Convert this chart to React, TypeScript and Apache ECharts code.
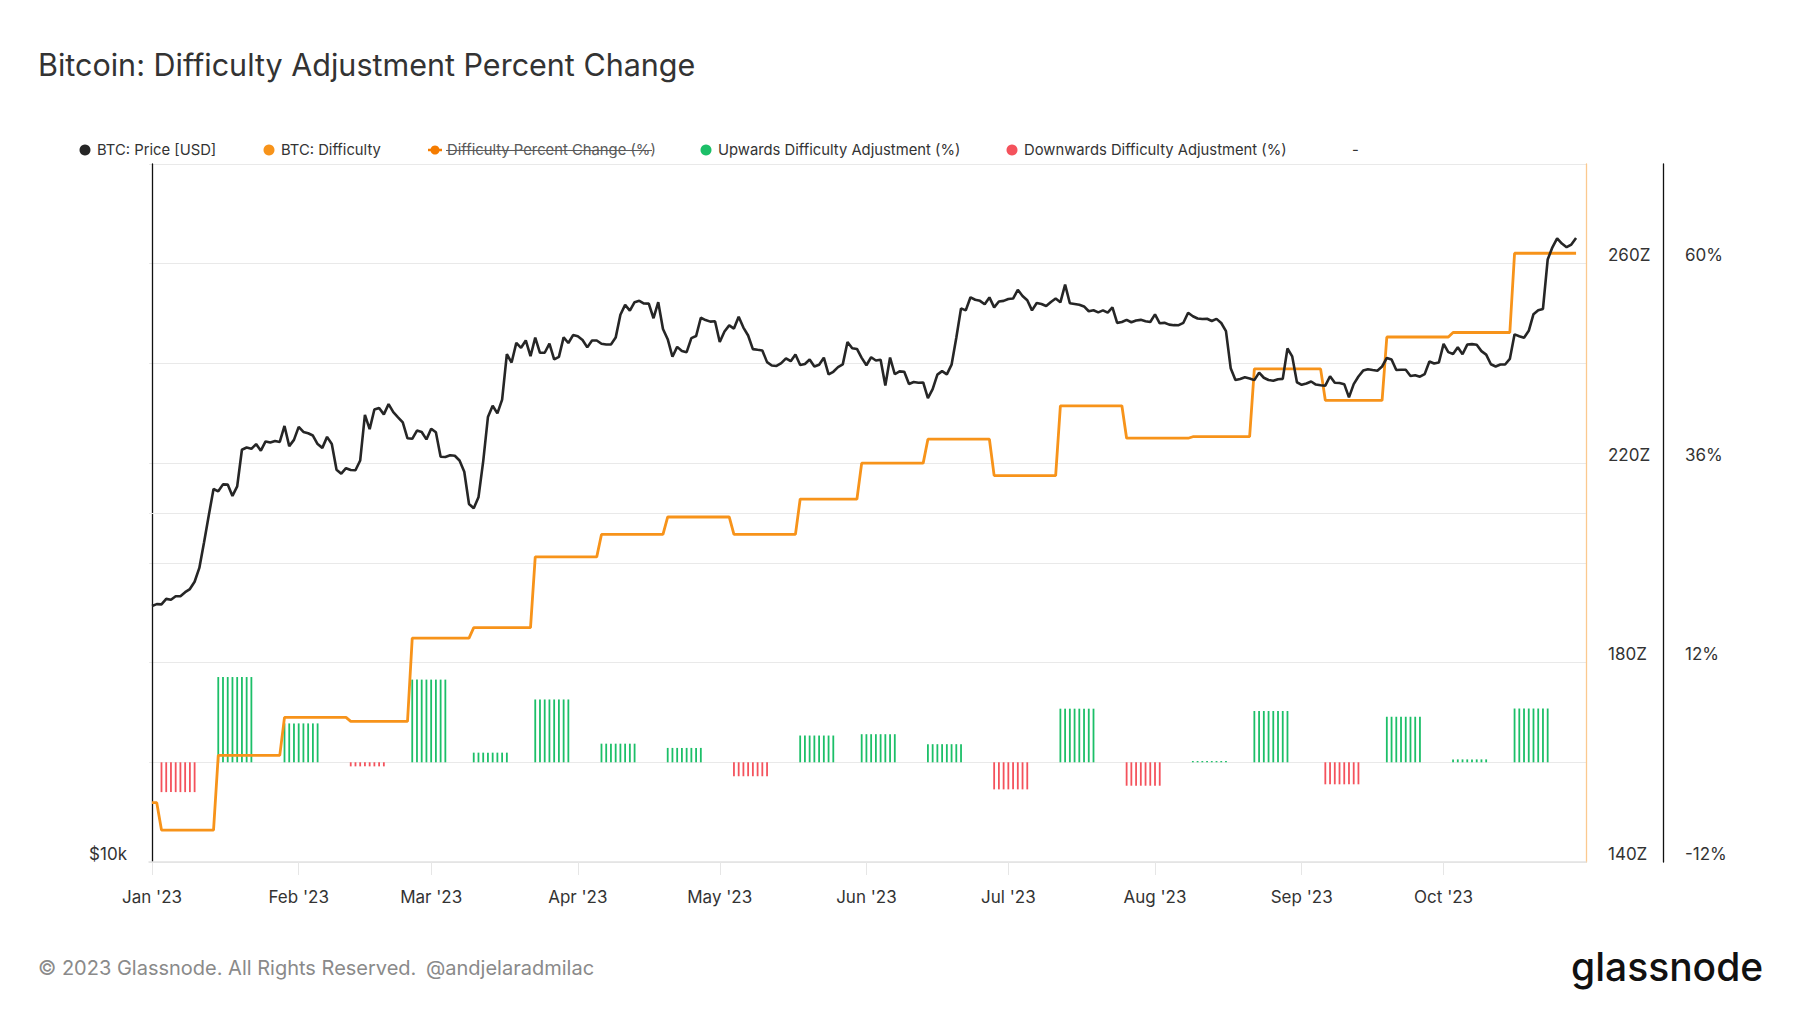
import * as echarts from 'echarts';
import React, { useEffect, useRef } from 'react';

// BTC daily price [USD], 2023, index 0 = Jan 1
const priceJan = [
  16625, 16688, 16680, 16863, 16836, 16951, 16955, 17091, 17196, 17446,
  17934, 18869, 19910, 20977, 20880, 21170, 21161, 20689, 21086, 22676,
  22777, 22720, 22934, 22636, 23055, 23010, 23074, 23032, 23774, 22841, 23125,
];
const priceFeb = [
  23733, 23491, 23431, 23326, 22933, 22762, 23264, 22940, 21797, 21625,
  21862, 21783, 21773, 22200, 24307, 23623, 24565, 24641, 24327, 24829,
  24436, 24188, 23947, 23198, 23175, 23555, 23492, 23147,
];
const priceMar = [
  23646, 23475, 22362, 22354, 22430, 22410, 22197, 21705, 20363, 20187,
  20633, 22163, 24197, 24746, 24375, 25052, 27423, 26965, 28038, 27767,
  28175, 27307, 28333, 27493, 27494, 27994, 27139, 27268, 28348, 28033, 28478,
];
const priceApr = [
  28411, 28199, 27790, 28169, 28175, 27992, 27947, 27953, 28334, 29653,
  30235, 29892, 30400, 30485, 30318, 30315, 29446, 30397, 28823, 28245,
  27276, 27817, 27591, 27525, 28307, 28422, 29473, 29340, 29248, 29268,
];
const priceMay = [
  28091, 28680, 29032, 28848, 29538, 28904, 28454, 27695, 27655, 27622,
  26988, 26804, 26784, 26930, 27192, 27036, 27398, 26832, 26890, 27130,
  26753, 26851, 27225, 26334, 26476, 26720, 26868, 28086, 27746, 27702, 27219,
];
const priceJun = [
  26819, 27249, 27075, 27119, 25760, 27238, 26346, 26498, 26477, 25842,
  25940, 25902, 25918, 25124, 25576, 26327, 26510, 26336, 26852, 28327,
  30028, 29912, 30695, 30548, 30480, 30271, 30689, 30086, 30445, 30477,
];
const priceJul = [
  30590, 30620, 31156, 30777, 30514, 29910, 30346, 30292, 30171, 30414,
  30620, 30391, 31476, 30334, 30295, 30249, 30145, 29856, 29913, 29792,
  29908, 29771, 30084, 29177, 29228, 29354, 29211, 29314, 29352, 29275, 29230,
];
const priceAug = [
  29676, 29152, 29178, 29075, 29043, 29041, 29180, 29766, 29561, 29429,
  29397, 29415, 29283, 29408, 29170, 28702, 26664, 26049, 26096, 26189,
  26124, 26040, 26432, 26163, 26049, 26008, 26089, 26106, 27727, 27297, 25931,
];
const priceSep = [
  25800, 25869, 25970, 25813, 25780, 25753, 26240, 25905, 25895, 25832,
  25163, 25834, 26229, 26539, 26608, 26568, 26534, 26754, 27211, 27132,
  26567, 26580, 26579, 26256, 26298, 26217, 26352, 27022, 26912, 26968,
];
const priceOct = [
  27983, 27530, 27429, 27799, 27415, 27946, 27968, 27935, 27584, 27392,
  26873, 26756, 26863, 26861, 27160, 28519, 28415, 28328, 28720, 29682,
  29919, 29993, 33086, 33901, 34502, 34156, 33909, 34089, 34538,
];

const price = [
  ...priceJan, ...priceFeb, ...priceMar, ...priceApr, ...priceMay,
  ...priceJun, ...priceJul, ...priceAug, ...priceSep, ...priceOct,
];

// x-axis ticks (day index of each month start)
const monthStarts = [0, 31, 59, 90, 120, 151, 181, 212, 243, 273];
const monthLabels = [
  "Jan '23", "Feb '23", "Mar '23", "Apr '23", "May '23",
  "Jun '23", "Jul '23", "Aug '23", "Sep '23", "Oct '23",
];

// difficulty epochs: first day index, difficulty [Z], adjustment [%]
const epochStarts = [0, 2, 14, 28, 42, 55, 68, 81, 95, 109, 123, 137, 150, 164, 178, 192, 206, 220, 233, 248, 261, 275, 288];
const epochDifficulty = [
  151.9, 146.4, 161.4, 169.0, 168.2, 184.9, 187.0, 201.2, 205.7, 209.2, 205.7, 212.8,
  220.0, 224.8, 217.5, 231.5, 225.0, 225.3, 238.9, 232.6, 245.3, 246.2, 262.1,
];
const epochChange = [
  0, -3.59, 10.26, 4.68, -0.49, 9.95, 1.16, 7.56, 2.24, 1.73, -1.68, 3.22,
  3.38, 2.18, -3.26, 6.45, -2.82, 0.15, 6.17, -2.65, 5.48, 0.35, 6.47,
];
const barsPerEpoch = 8;

const priceTicks = [10000];
const priceGuides = [20000];
const difficultyTicks = [140, 180, 220, 260];
const percentTicks = [-12, 12, 36, 60];

const FONT = 'Inter, "Noto Sans", sans-serif';
const TEXT = '#333333';
const ORANGE = '#f7931a';
const GREEN = '#1cbf68';
const RED = '#f4525c';

const legendItems = [
  { name: 'BTC: Price [USD]', color: '#262626', x: 85, hidden: false },
  { name: 'BTC: Difficulty', color: ORANGE, x: 269, hidden: false },
  { name: 'Difficulty Percent Change (%)', color: '#f57c00', x: 435, hidden: true },
  { name: 'Upwards Difficulty Adjustment (%)', color: GREEN, x: 706, hidden: false },
  { name: 'Downwards Difficulty Adjustment (%)', color: RED, x: 1012, hidden: false },
];

const difficultyData = price.map((_, i) => {
  let e = 0;
  while (e + 1 < epochStarts.length && epochStarts[e + 1] <= i) e++;
  return [i, epochDifficulty[e]];
});

const upBars: number[][] = [];
const downBars: number[][] = [];
epochStarts.forEach((start, e) => {
  if (e === 0) return;
  for (let d = 0; d < barsPerEpoch; d++) {
    const v = epochChange[e];
    (v >= 0 ? upBars : downBars).push([start + d, v]);
  }
});

const buildLegend = () => {
  const els: any[] = [];
  const y = 150;
  legendItems.forEach((item) => {
    if (item.hidden) {
      els.push({ type: 'line', shape: { x1: item.x - 7, y1: y, x2: item.x + 7, y2: y }, style: { stroke: item.color, lineWidth: 2.5 } });
      els.push({ type: 'circle', shape: { cx: item.x, cy: y, r: 4.5 }, style: { fill: item.color } });
    } else {
      els.push({ type: 'circle', shape: { cx: item.x, cy: y, r: 5.5 }, style: { fill: item.color } });
    }
    els.push({
      type: 'text',
      x: item.x + 12,
      y,
      style: { text: item.name, fill: item.hidden ? '#5a5a5a' : TEXT, fontSize: 14.8, fontFamily: FONT, verticalAlign: 'middle' },
    });
  });
  els.push({ type: 'line', shape: { x1: 446, y1: y + 0.5, x2: 652, y2: y + 0.5 }, style: { stroke: '#5a5a5a', lineWidth: 1 } });
  els.push({ type: 'text', x: 1352, y, style: { text: '-', fill: TEXT, fontSize: 14.8, fontFamily: FONT, verticalAlign: 'middle' } });
  return els;
};

const App = () => {
  const chartRef = useRef<HTMLDivElement>(null);

  useEffect(() => {
    if (!chartRef.current) return;
    const chart = echarts.init(chartRef.current, undefined, { renderer: 'svg' });

    const axisLabelBase = { fontSize: 17, color: TEXT, fontFamily: FONT };

    chart.setOption({
      animation: false,
      backgroundColor: '#ffffff',
      grid: { left: 149, right: 214, top: 164, bottom: 151, containLabel: false, outerBoundsMode: 'none' },
      graphic: [
        {
          type: 'text',
          x: 38,
          y: 64,
          style: { text: 'Bitcoin: Difficulty Adjustment Percent Change', fill: TEXT, fontSize: 30.5, fontFamily: FONT, verticalAlign: 'middle' },
        },
        ...buildLegend(),
        {
          type: 'text',
          x: 38,
          y: 968,
          style: { text: '© 2023 Glassnode. All Rights Reserved.', fill: '#8a8a8a', fontSize: 20, fontFamily: FONT, verticalAlign: 'middle' },
        },
        {
          type: 'text',
          x: 426,
          y: 968,
          style: { text: '@andjelaradmilac', fill: '#8a8a8a', fontSize: 20, fontFamily: FONT, verticalAlign: 'middle' },
        },
        {
          type: 'text',
          x: 1571,
          y: 966,
          style: { text: 'glassnode', fill: '#111111', fontSize: 39, fontWeight: 500, fontFamily: FONT, verticalAlign: 'middle' },
        },
      ],
      xAxis: {
        type: 'value',
        min: -0.64,
        max: 303.1,
        axisLine: { show: true, onZero: false, lineStyle: { color: '#e2e2e2', width: 1.5 } },
        axisTick: { show: true, customValues: monthStarts, length: 13, lineStyle: { color: '#e6e6e6' } },
        axisLabel: {
          ...axisLabelBase,
          customValues: monthStarts,
          margin: 26,
          formatter: (v: number) => monthLabels[monthStarts.indexOf(Math.round(v))] ?? '',
        },
        splitLine: { show: false },
      },
      yAxis: [
        {
          type: 'log',
          logBase: 10,
          position: 'left',
          min: 10000,
          max: 40000,
          axisLine: { show: true, lineStyle: { color: '#111111', width: 1.3 } },
          axisTick: { show: false },
          axisLabel: {
            ...axisLabelBase,
            margin: 22,
            verticalAlign: 'bottom',
            formatter: (v: number) => (priceTicks.includes(Math.round(v)) ? `$${Math.round(v / 1000)}k` : ''),
          },
          splitLine: { show: false },
        },
        {
          type: 'value',
          position: 'right',
          min: 140,
          max: 280,
          interval: 20,
          axisLine: { show: true, lineStyle: { color: '#fbc98f', width: 1.3 } },
          axisTick: { show: false },
          axisLabel: {
            ...axisLabelBase,
            margin: 22,
            verticalAlign: 'bottom',
            formatter: (v: number) => (difficultyTicks.includes(v) ? `${v}Z` : ''),
          },
          splitLine: { show: true, lineStyle: { color: '#e9e9e9', width: 1 } },
        },
        {
          type: 'value',
          position: 'right',
          offset: 77,
          min: -12,
          max: 72,
          interval: 12,
          axisLine: { show: true, lineStyle: { color: '#111111', width: 1.3 } },
          axisTick: { show: false },
          axisLabel: {
            ...axisLabelBase,
            margin: 22,
            verticalAlign: 'bottom',
            formatter: (v: number) => (percentTicks.includes(v) ? `${v}%` : ''),
          },
          splitLine: { show: false },
        },
      ],
      series: [
        {
          name: 'Upwards Difficulty Adjustment (%)',
          type: 'bar',
          yAxisIndex: 2,
          data: upBars,
          barWidth: 1.8,
          barGap: '-100%',
          itemStyle: { color: GREEN },
          z: 2,
        },
        {
          name: 'Downwards Difficulty Adjustment (%)',
          type: 'bar',
          yAxisIndex: 2,
          data: downBars,
          barWidth: 1.8,
          barGap: '-100%',
          itemStyle: { color: RED },
          z: 2,
        },
        {
          name: 'BTC: Difficulty',
          type: 'line',
          yAxisIndex: 1,
          data: difficultyData,
          symbol: 'none',
          lineStyle: { color: ORANGE, width: 2.8 },
          z: 3,
        },
        {
          name: 'BTC: Price [USD]',
          type: 'line',
          yAxisIndex: 0,
          data: price.map((p, i) => [i, p]),
          symbol: 'none',
          lineStyle: { color: '#262626', width: 2.6 },
          z: 4,
          markLine: {
            silent: true,
            symbol: 'none',
            label: { show: false },
            lineStyle: { color: '#e9e9e9', type: 'solid', width: 1 },
            data: priceGuides.map((g) => ({ yAxis: g })),
            z: 1,
          },
        },
      ],
    });

    return () => {
      chart.dispose();
    };
  }, []);

  return (
    <div
      ref={chartRef}
      style={{ position: 'fixed', left: 0, top: 0, width: 1800, height: 1013, background: '#ffffff' }}
    />
  );
};

export default App;
